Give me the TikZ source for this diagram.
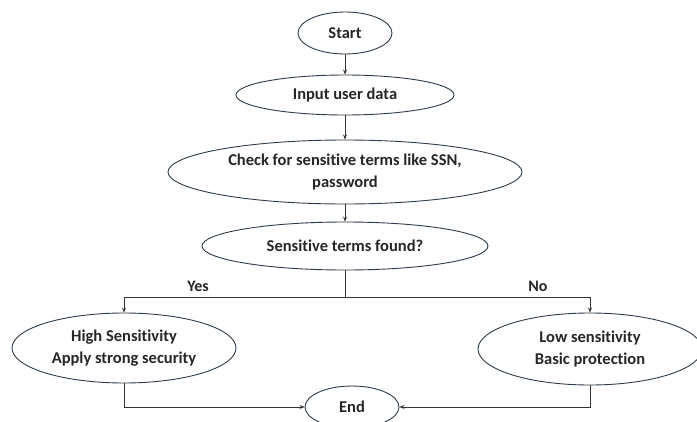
\documentclass[tikz,border=0pt]{standalone}
\usepackage{fontspec}
\setmainfont[Ligatures={NoCommon}]{Carlito}
\usetikzlibrary{shapes.geometric,arrows.meta}
\definecolor{edge}{HTML}{2E3B4A}
\tikzset{
  ell/.style={draw=edge, line width=0.9pt, ellipse, inner sep=0pt, align=center,
    font=\bfseries\fontsize{16.5}{21.5}\selectfont, text=black!85},
  conn/.style={draw=black!80, line width=0.9pt},
  arr/.style={conn, -{Stealth[length=5pt,width=4pt]}},
  lbl/.style={font=\bfseries\fontsize{16}{18}\selectfont, text=black!85}
}
\begin{document}
\begin{tikzpicture}[x=1pt,y=-1pt]
\useasboundingbox (0,0) rectangle (697,421);
\clip (0,0) rectangle (697,421);
\node[ell, minimum width=94pt, minimum height=42pt] (start) at (345,33) {Start};
\node[ell, minimum width=218pt, minimum height=40pt] (input) at (345,95) {Input user data};
\node[ell, minimum width=354pt, minimum height=64pt] (check) at (345,172) {Check for sensitive terms like SSN,\\password};
\node[ell, minimum width=286pt, minimum height=48pt] (found) at (345,246) {Sensitive terms found?};
\node[ell, minimum width=224pt, minimum height=70pt] (high) at (124,348) {High Sensitivity\\Apply strong security};
\node[ell, minimum width=224pt, minimum height=72pt] (low) at (590,349) {Low sensitivity\\Basic protection};
\node[ell, minimum width=94pt, minimum height=42pt] (end) at (352,407) {End};
\coordinate (split) at (345,297);
\draw[arr] (start) -- (input);
\draw[arr] (input) -- (check);
\draw[arr] (check) -- (found);
\draw[conn] (found) -- (split);
\draw[arr] (split) -| (high.north);
\draw[arr] (split) -| (low.north);
\draw[arr] (high.south) |- (end.west);
\draw[arr] (low.south) |- (end.east);
\node[lbl] (yes) at (198,286) {Yes};
\node[lbl] (no) at (538,286) {No};
\end{tikzpicture}
\end{document}
